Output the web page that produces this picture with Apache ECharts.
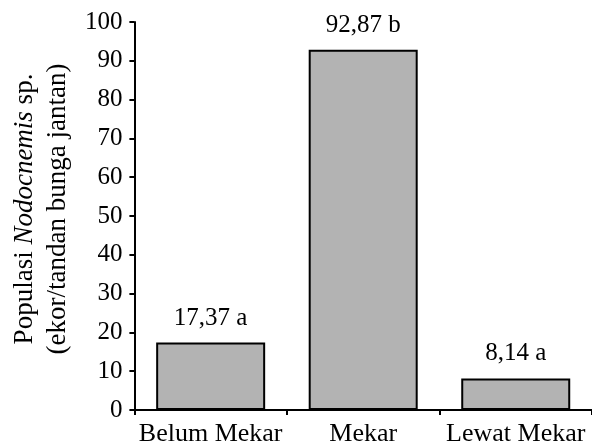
<!DOCTYPE html>
<html>
<head>
<meta charset="utf-8">
<script src="https://cdn.jsdelivr.net/npm/echarts@6/dist/echarts.min.js"></script>
<style>
html,body{margin:0;padding:0;background:#fff;}
#chart{width:592px;height:448px;}
</style>
</head>
<body>
<div id="chart"></div>
<script>
const categories = ['Belum Mekar', 'Mekar', 'Lewat Mekar'];
const values = [17.37, 92.87, 8.14];
const letters = ['a', 'b', 'a'];
const yTicks = [0, 10, 20, 30, 40, 50, 60, 70, 80, 90, 100];

const FONT = '"Liberation Serif", "Times New Roman", serif';
const chart = echarts.init(document.getElementById('chart'), null, {renderer: 'canvas'});

chart.setOption({
  animation: false,
  backgroundColor: '#fff',
  grid: {left: 130, top: 22, width: 465, height: 388, containLabel: false},
  xAxis: {
    type: 'category',
    data: categories,
    boundaryGap: true,
    axisLine: {lineStyle: {color: '#000', width: 2}},
    axisTick: {show: true, length: 5, lineStyle: {color: '#000', width: 2}},
    axisLabel: {color: '#000', fontFamily: FONT, fontSize: 26, margin: 11, interval: 0, hideOverlap: false}
  },
  yAxis: {
    type: 'value',
    min: yTicks[0],
    max: yTicks[yTicks.length - 1],
    interval: yTicks[1] - yTicks[0],
    splitLine: {show: false},
    axisLine: {show: true, lineStyle: {color: '#000', width: 2}},
    axisTick: {show: true, length: 5, lineStyle: {color: '#000', width: 2}},
    axisLabel: {color: '#000', fontFamily: FONT, fontSize: 25, margin: 12},
    name: '{n|Populasi }{i|Nodocnemis}{n| sp.}\n{n|(ekor/tandan bunga jantan)}',
    nameLocation: 'middle',
    nameRotate: 90,
    nameGap: 52,
    nameTextStyle: {
      color: '#000', fontFamily: FONT, fontSize: 27, lineHeight: 33,
      padding: [0, 0, 0, 14],
      rich: {
        n: {color: '#000', fontFamily: FONT, fontSize: 27, lineHeight: 33},
        i: {color: '#000', fontFamily: FONT, fontSize: 27, lineHeight: 33, fontStyle: 'italic'}
      }
    }
  },
  series: [{
    type: 'bar',
    data: values,
    barWidth: 109,
    itemStyle: {color: '#b3b3b3', borderColor: '#000', borderWidth: 2},
    label: {
      show: true,
      position: 'top',
      distance: 12,
      color: '#000',
      fontFamily: FONT,
      fontSize: 25,
      formatter: p => String(p.value).replace('.', ',') + ' ' + letters[p.dataIndex]
    }
  }]
});
</script>
</body>
</html>
